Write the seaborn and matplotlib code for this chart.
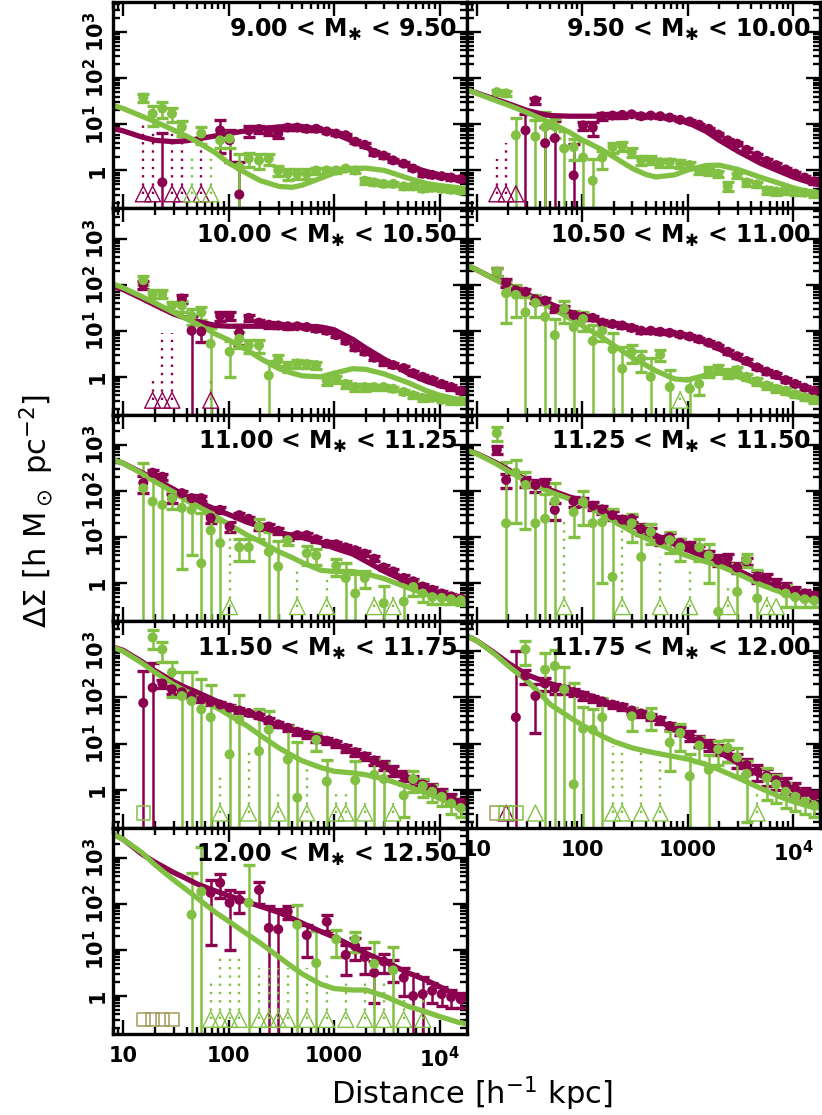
import numpy as np
import matplotlib
matplotlib.use("Agg")
import matplotlib.pyplot as plt
import seaborn as sns

nan = float("nan")

# ---------------- data ----------------
radius_bins = [15.5, 19, 23.5, 29, 36, 44.5, 55, 67.5, 83, 102, 126, 155, 194, 240, 295, 363,
               447, 550, 676, 851, 1047, 1288, 1585, 1950, 2400, 2950, 3630, 4570, 5620, 6920,
               8510, 10470, 12880, 15850]
model_radius = [7.5, 10, 15, 20, 30, 40, 50, 75, 100, 150, 200, 300, 400, 500, 750, 1000, 1500,
                2000, 3000, 5000, 7500, 10000, 15000, 18000]
mass_lo = ["9.00", "9.50", "10.00", "10.50", "11.00", "11.25", "11.50", "11.75", "12.00"]
mass_hi = ["9.50", "10.00", "10.50", "11.00", "11.25", "11.50", "11.75", "12.00", "12.50"]
x_tick_values = [10, 100, 1000, 10000]
x_tick_labels = ["10", "100", "1000", "10$^4$"]
y_tick_values = [1, 10, 100, 1000]
y_tick_labels = ["1", "10$^1$", "10$^2$", "10$^3$"]

# model curves (maroon = red population, green = blue population)
m1_model = [8.5, 7.2, 5.3, 4.5, 4.2, 4.4, 4.8, 5.6, 6.3, 7.3, 8.0, 8.8, 9.0, 8.8, 7.8, 6.4, 4.3, 3.2, 2.0, 1.25, 0.95, 0.8, 0.68, 0.64]
g1_model = [27, 22, 15, 11.5, 7.5, 5.5, 4.2, 2.4, 1.45, 0.85, 0.6, 0.45, 0.43, 0.48, 0.68, 0.88, 1.1, 1.12, 1.0, 0.68, 0.52, 0.47, 0.42, 0.4]
m2_model = [58, 48, 35, 28, 20, 17, 15.5, 15, 15, 15, 15.5, 15.5, 15.3, 14.5, 13, 11, 7, 4.5, 2.6, 1.4, 0.95, 0.72, 0.53, 0.48]
g2_model = [60, 47, 33, 26, 18, 13.5, 10.8, 6.8, 4.6, 2.9, 1.95, 1.1, 0.82, 0.72, 0.8, 1.02, 1.28, 1.3, 1.05, 0.7, 0.52, 0.42, 0.33, 0.31]
m3_model = [95, 78, 50, 36, 23, 18.5, 16, 13, 12.5, 12.5, 12.5, 12.5, 12.5, 12.5, 12, 10.5, 6.5, 4.2, 2.4, 1.2, 0.8, 0.65, 0.5, 0.46]
g3_model = [110, 85, 55, 40, 25, 18, 14, 8.5, 6.3, 3.8, 2.5, 1.5, 1.2, 1.05, 1.0, 1.2, 1.5, 1.45, 1.15, 0.75, 0.5, 0.4, 0.32, 0.3]
m4_model = [280, 210, 130, 95, 62, 46, 38, 26, 21, 16, 13.5, 11, 10, 9.5, 8.5, 7.5, 5.5, 4.0, 2.5, 1.4, 0.95, 0.72, 0.52, 0.47]
g4_model = [280, 210, 130, 92, 58, 42, 32, 19, 13, 7.5, 4.8, 2.6, 1.8, 1.35, 0.9, 0.85, 1.1, 1.2, 1.0, 0.66, 0.48, 0.39, 0.3, 0.28]
m5_model = [500, 400, 250, 180, 110, 75, 60, 40, 31, 21, 17, 12.5, 11, 9.8, 7.6, 5.8, 4.3, 3.0, 1.8, 1.05, 0.75, 0.62, 0.48, 0.45]
g5_model = [500, 400, 240, 160, 95, 62, 48, 28, 19, 11, 8, 4.8, 3.6, 2.8, 1.9, 1.8, 1.8, 1.6, 1.25, 0.8, 0.58, 0.5, 0.43, 0.42]
m6_model = [800, 650, 420, 290, 170, 130, 105, 75, 62, 40, 28, 18, 13.5, 11, 7, 5.3, 3.6, 2.9, 1.9, 1.1, 0.8, 0.65, 0.54, 0.5]
g6_model = [800, 640, 400, 270, 160, 120, 95, 68, 55, 33, 22, 13, 9.5, 7.5, 5, 3.9, 2.9, 2.4, 1.6, 0.92, 0.65, 0.52, 0.43, 0.4]
m7_model = [1300, 1050, 600, 380, 220, 160, 130, 85, 65, 45, 35, 24, 20, 17, 13.5, 10, 6.5, 4.9, 3.2, 1.8, 1.2, 0.85, 0.55, 0.5]
g7_model = [1300, 1000, 560, 350, 190, 135, 100, 62, 42, 24, 15, 8, 5.5, 4.2, 3.0, 2.5, 2.3, 2.1, 1.7, 1.15, 0.85, 0.65, 0.42, 0.38]
m8_model = [2300, 1700, 900, 550, 310, 240, 200, 150, 125, 90, 68, 48, 40, 34, 20, 14, 9, 6.5, 3.8, 2.0, 1.4, 1.05, 0.76, 0.7]
g8_model = [2300, 1700, 850, 480, 230, 120, 70, 38, 25, 15, 11, 8, 6.9, 6.2, 5.2, 4.6, 3.5, 2.7, 1.8, 1.05, 0.7, 0.55, 0.42, 0.4]
m9_model = [3500, 2500, 1200, 800, 480, 350, 270, 190, 150, 110, 88, 65, 48, 38, 25, 19, 12, 8.5, 5.6, 3.2, 2.2, 1.6, 1.0, 0.88]
g9_model = [3500, 2500, 1300, 700, 330, 200, 135, 65, 42, 22, 14, 7, 4.3, 3.0, 1.8, 1.45, 1.35, 1.35, 1.0, 0.6, 0.45, 0.36, 0.27, 0.25]

# measurements: value > 0 -> point with error bar, value < 0 -> open triangle, 0 -> open square
g1_vals = [38, 17, 22, 17, 8.7, -1, 6.3, -1, 4.5, 4.9, 1.2, 1.8, 1.65, 1.8, 1.0, 0.85, 0.85, 0.85, 1.0, 1.0, 1.0, 1.1, 1.0, 0.6, 0.55, 0.51, 0.51, 0.45, 0.45, 0.4, 0.42, 0.4, 0.38, 0.36]
g1_errs = [7, 8, 8, 6, 3, 3, 2.5, 3, 1.5, 1.8, 1.1, 0.6, 0.6, 0.5, 0.25, 0.22, 0.2, 0.2, 0.15, 0.12, 0.12, 0.1, 0.1, 0.08, 0.07, 0.06, 0.05, 0.05, 0.05, 0.04, 0.04, 0.04, 0.04, 0.04]
m1_vals = [-1, -1, 0.55, -1, -1, nan, -1, nan, 7.4, 4.5, 0.3, 7.4, 7.9, 7.4, 6.3, 8.5, 8.5, 8.0, 8.0, 7.0, 6.3, 5.8, 4.2, 3.6, 2.4, 2.1, 1.65, 1.4, 1.1, 0.85, 0.8, 0.75, 0.7, 0.65]
m1_errs = [13, 10, 6, 8, 6, nan, 7, nan, 5, 3, 1.2, 2, 1.5, 1.5, 1.2, 1, 1, 0.8, 0.7, 0.6, 0.5, 0.4, 0.3, 0.3, 0.2, 0.2, 0.15, 0.12, 0.1, 0.08, 0.08, 0.07, 0.07, 0.06]

g2_vals = [50, 47, 5.8, nan, 5.4, 8.7, 9, 3, 3.2, 1.9, 0.6, 1.9, 3.2, 3.4, 2.5, 1.7, 1.7, 1.5, 1.5, 1.4, 1.3, 1.0, 0.95, 0.85, 0.45, 0.8, 0.55, 0.5, 0.37, 0.35, 0.36, 0.35, 0.33, 0.31]
g2_errs = [6, 5, 8, nan, 7, 9.5, 4, 4, 1.5, 2.5, 1.2, 0.8, 0.8, 0.7, 0.5, 0.4, 0.35, 0.3, 0.3, 0.25, 0.2, 0.18, 0.15, 0.12, 0.1, 0.1, 0.08, 0.07, 0.06, 0.05, 0.05, 0.05, 0.04, 0.04]
m2_vals = [-1, -1, -1, 7.4, 33, 3.9, 5, nan, 0.78, 9.5, 8.5, 15, 15.5, 16, 16.5, 15, 15.5, 15, 14, 12.5, 11.5, 9.8, 8, 6.0, 4.5, 3.8, 2.8, 2.1, 1.6, 1.3, 1.05, 0.85, 0.7, 0.58]
m2_errs = [2.8, 5, 1.2, 9, 5, 5, 7, nan, 3, 2, 3, 2.5, 2, 2, 1.5, 1.5, 1.2, 1, 1, 0.8, 0.7, 0.6, 0.5, 0.4, 0.35, 0.3, 0.25, 0.2, 0.15, 0.12, 0.1, 0.08, 0.07, 0.06]

g3_vals = [125, 63, 63, 35, 35, 21, 25, 5.2, nan, 3.5, 6.7, 4.8, 4.8, 1.07, 2.3, 1.7, 1.95, 1.9, 1.8, 0.83, 0.9, 0.7, 0.6, 0.6, 0.6, 0.6, 0.55, 0.47, 0.4, 0.35, 0.35, 0.32, 0.3, 0.3]
g3_errs = [25, 12, 12, 8, 10, 8, 8, 6, nan, 2.5, 2.5, 1.5, 1.5, 1.1, 0.6, 0.4, 0.4, 0.35, 0.3, 0.15, 0.15, 0.12, 0.1, 0.1, 0.08, 0.07, 0.06, 0.05, 0.05, 0.05, 0.04, 0.04, 0.04, 0.04]
m3_vals = [100, -1, -1, -1, 50, 10, 9.6, -1, 21, 21, 9, 19, 15, 13.5, 13, 12.5, 12.5, 12, 11, 10, 8, 6, 4.3, 3.5, 2.6, 2.1, 1.8, 1.55, 1.2, 1.0, 0.85, 0.7, 0.6, 0.5]
m3_errs = [20, 2, 10, 10, 10, 11, 4, 2, 5, 4, 4, 3, 2.5, 2, 1.8, 1.5, 1.3, 1.2, 1, 0.9, 0.8, 0.6, 0.45, 0.35, 0.3, 0.25, 0.2, 0.17, 0.13, 0.1, 0.09, 0.08, 0.07, 0.06]

g4_vals = [190, 65, 60, 25, 40, 20, 8, 30, 12, 18, 6, 10, 4, 1.5, 3.5, 2.5, 1.0, 3.0, 0.6, -1, 0.55, 0.7, 1.3, 1.5, 1.2, 1.4, 1.0, 0.8, 0.65, 0.55, 0.5, 0.42, 0.36, 0.32]
g4_errs = [40, 50, 40, 30, 20, 25, 10, 15, 15, 8, 7, 4, 5, 3, 1.5, 1.2, 1.5, 0.8, 0.8, 1.5, 0.4, 0.3, 0.3, 0.3, 0.25, 0.2, 0.15, 0.12, 0.1, 0.08, 0.07, 0.06, 0.05, 0.05]
m4_vals = [190, 110, 75, 70, 48, 45, 30, 30, 22, 20, 19, 15, 14, 13, 11.5, 10, 10, 9.5, 9, 8.2, 7.5, 6.5, 5.5, 4.6, 3.5, 2.8, 2.2, 1.6, 1.3, 1.1, 0.85, 0.7, 0.58, 0.5]
m4_errs = [40, 20, 12, 10, 8, 7, 5, 4, 3, 2.5, 2, 1.8, 1.5, 1.3, 1.1, 1, 0.9, 0.8, 0.7, 0.6, 0.5, 0.45, 0.4, 0.35, 0.3, 0.25, 0.2, 0.15, 0.12, 0.1, 0.08, 0.07, 0.06, 0.05]

g5_vals = [115, 59, 50, 70, 43, 39, 2.7, 14, 7.4, -1, 6, 6, 17, 4.8, 2.3, 8.6, -1, 4.5, 4, -1, 2.4, 1.3, 0.6, 1.3, -1, 0.37, -1, 0.4, 0.83, 0.6, 0.5, 0.48, 0.45, 0.43]
g5_errs = [285, 120, 100, 30, 41, 35, 30, 25, 15, 15, 3, 3, 8, 8, 6, 2, 3.3, 2, 1.5, 2.2, 1.0, 1.5, 1.0, 0.5, 1.5, 0.5, 1.5, 0.5, 0.3, 0.2, 0.15, 0.12, 0.1, 0.1]
m5_vals = [150, 250, 204, 70, 90, 70, 70, 26, 39, 17, 30, 25, 17, 17, 13.7, 10, 11, 11, 9, 7.2, 7, 6, 5.2, 4.4, 3.4, 2.2, 1.8, 1.3, 1.1, 0.85, 0.72, 0.6, 0.52, 0.47]
m5_errs = [60, 40, 30, 15, 12, 10, 8, 6, 5, 4, 3.5, 3, 2.5, 2, 1.8, 1.5, 1.3, 1.2, 1, 0.9, 0.8, 0.7, 0.6, 0.5, 0.4, 0.3, 0.25, 0.2, 0.15, 0.12, 0.1, 0.08, 0.07, 0.06]

g6_vals = [1800, 20, 250, 135, 20, 25, 60, -1, 35, 58, 20, 21, 1.37, -1, 20, 3.7, 13, -1, 8.6, 6, -1, 6, 4, 0.24, -1, 0.65, 3.2, 0.47, -1, -1, 0.6, 0.5, 0.45, 0.42]
g6_errs = [600, 415, 230, 120, 100, 60, 90, 29, 25, 40, 30, 20, 40, 15, 12, 15, 6, 4.7, 4, 3, 3, 3, 3, 3, 2, 2, 1, 1.5, 1.5, 1.3, 0.3, 0.2, 0.15, 0.12]
m6_vals = [780, 174, nan, 160, 135, 150, 39, nan, 60, 59, 48, 40, 30, 24, 25, 15, 13, 8.6, 10, 7.5, 6.5, 5.5, 4.2, 3.2, 3.5, 2.2, 3, 1.4, 1.3, 1.0, 0.8, 0.68, 0.6, 0.54]
m6_errs = [150, 60, nan, 40, 40, 30, 15, nan, 15, 12, 10, 8, 7, 5, 4, 4, 3, 2, 2, 1.5, 1.2, 1, 0.9, 0.8, 0.7, 0.5, 0.5, 0.4, 0.3, 0.25, 0.2, 0.15, 0.12, 0.1]

g7_vals = [0, 2000, 1100, 350, 107, 83, 55, 37, -1, 5.8, 33, -1, 6.8, 20, -1, 4.5, 0.67, -1, 12, 1.5, -1, -1, 1.6, -1, 2.1, 1.7, -1, 0.75, 1.7, 1.2, 0.9, 0.7, 0.5, 0.4]
g7_errs = [0, 900, 500, 250, 250, 270, 200, 150, 3, 60, 80, 8, 50, 30, 2, 20, 10, 5, 5, 3, 2, 2, 2.5, 1.5, 2.5, 2, 1.5, 0.5, 0.8, 0.5, 0.35, 0.25, 0.2, 0.15]
m7_vals = [76, 163, 200, 150, 130, 110, 90, 80, 70, 60, 52, 46, 40, 32, 26, 22, 18, 15.5, 13, 11.5, 10, 8, 6.5, 5.3, 4.3, 3.4, 2.6, 2.0, 1.6, 1.3, 1.05, 0.85, 0.65, 0.52]
m7_errs = [300, 400, 40, 30, 20, 15, 12, 10, 8, 7, 6, 5, 4.5, 4, 3.5, 3, 2.5, 2.2, 2, 1.8, 1.5, 1.3, 1.1, 1, 0.8, 0.7, 0.6, 0.5, 0.4, 0.3, 0.25, 0.2, 0.15, 0.12]

g8_vals = [0, 0, 0, 1100, -1, 400, 480, 150, 1.3, 21, 20, 37, -1, -1, 39, -1, 40, -1, 10.5, 17, 1.95, 9, 2.7, 7.5, 8, 5, 2.2, -1, 1.8, 1.3, 0.9, 0.7, 0.55, 0.45]
g8_errs = [0, 0, 0, 600, 1, 500, 600, 300, 200, 40, 35, 60, 10, 10, 20, 8, 20, 8, 8, 10, 4, 5, 3, 4, 4, 3, 2, 2, 1.2, 0.8, 0.5, 0.35, 0.25, 0.2]
m8_vals = [0, -1, 37, 300, 107, 200, 160, 150, 130, 110, 95, 82, 70, 62, 52, 45, 38, 32, 24, 19, 15, 11.5, 9.5, 7.5, 5.8, 4.4, 3.4, 2.5, 2.0, 1.6, 1.3, 1.05, 0.85, 0.75]
m8_errs = [0, 1, 960, 100, 90, 60, 40, 30, 25, 20, 15, 12, 10, 9, 8, 7, 6, 5, 4.5, 4, 3.5, 3, 2.5, 2, 1.8, 1.5, 1.2, 1, 0.8, 0.6, 0.5, 0.35, 0.25, 0.2]

g9_vals = [0, 0, 0, 0, nan, 58, 185, -1, -1, -1, -1, 105, -1, -1, -1, -1, 35, -1, 5.2, -1, 17, -1, 17, -1, 5, -1, 3.6, -1, nan, -1, nan, nan, nan, nan]
g9_errs = [0, 0, 0, 0, nan, 400, 1500, 3, 8, 8, 8, 600, 5, 5, 5, 5, 60, 5, 20, 4, 10, 3, 8, 3, 10, 3, 8, 2, nan, 2, nan, nan, nan, nan]
m9_vals = [0, 0, 0, 0, nan, nan, nan, 173, 285, 105, 122, nan, 200, 30, 28, 68, nan, 21, nan, 41, nan, 7.8, 12, 7, 3.2, 5.6, 4, 2.5, 1.0, 1.1, 1.3, 1.1, 0.95, 0.85]
m9_errs = [0, 0, 0, 0, nan, nan, nan, 160, 150, 95, 60, nan, 100, 60, 50, 20, nan, 14, nan, 15, nan, 5, 6, 4, 2.5, 2.5, 2, 1.5, 2, 1.5, 0.6, 0.5, 0.4, 0.3]

panels = [
    (m1_model, g1_model, m1_vals, m1_errs, g1_vals, g1_errs),
    (m2_model, g2_model, m2_vals, m2_errs, g2_vals, g2_errs),
    (m3_model, g3_model, m3_vals, m3_errs, g3_vals, g3_errs),
    (m4_model, g4_model, m4_vals, m4_errs, g4_vals, g4_errs),
    (m5_model, g5_model, m5_vals, m5_errs, g5_vals, g5_errs),
    (m6_model, g6_model, m6_vals, m6_errs, g6_vals, g6_errs),
    (m7_model, g7_model, m7_vals, m7_errs, g7_vals, g7_errs),
    (m8_model, g8_model, m8_vals, m8_errs, g8_vals, g8_errs),
    (m9_model, g9_model, m9_vals, m9_errs, g9_vals, g9_errs),
]

# ---------------- style ----------------
MAROON = "#8C0050"
GREEN = "#82C043"
OLIVE = "#A29A5C"
YMIN, YMAX = 0.15, 4500
XMIN, XMAX = 8, 18000
FLAG_Y = 0.31

sns.set_style("ticks")
plt.rcParams["font.family"] = ["DejaVu Sans"]
plt.rcParams["mathtext.default"] = "regular"
for key in ("text.color", "axes.labelcolor", "axes.edgecolor", "xtick.color", "ytick.color"):
    plt.rcParams[key] = "black"


def draw_points(ax, vals, errs, color):
    r = np.array(radius_bins, float)
    v = np.array(vals, float)
    e = np.array(errs, float)
    pos = v > 0
    lo = np.clip(v - e, 1e-3, None)
    hi = v + e
    ax.vlines(r[pos], lo[pos], hi[pos], colors=color, lw=1.8, zorder=2)
    ax.plot(r[pos], hi[pos], ls="none", marker="_", ms=8, mew=2.4, color=color, zorder=2)
    lo_vis = pos & (v - e > YMIN)
    ax.plot(r[lo_vis], lo[lo_vis], ls="none", marker="_", ms=8, mew=2.4, color=color, zorder=2)
    if pos.any():
        sns.scatterplot(x=r[pos], y=v[pos], color=color, s=52, edgecolor="none",
                        ax=ax, zorder=4, legend=False)
    neg = v < 0
    top = v + e
    dot = neg & (top > FLAG_Y)
    ax.vlines(r[dot], FLAG_Y, top[dot], colors=color, lw=1.7, linestyles=(0, (1, 2.5)), zorder=2)
    if neg.any():
        ax.scatter(r[neg], np.full(neg.sum(), FLAG_Y), marker="^", s=130,
                   facecolors="none", edgecolors=color, linewidths=1.0, zorder=4)
    return v == 0


fig = plt.figure(figsize=(8.22, 11.15), dpi=100)
gs = fig.add_gridspec(5, 2, left=113 / 822, right=820 / 822, top=1 - 2 / 1115,
                      bottom=1 - 1034 / 1115, hspace=0, wspace=0)

for i, (mm, gm, mv, me, gv, ge) in enumerate(panels):
    row, col = divmod(i, 2)
    ax = fig.add_subplot(gs[row, col])
    ax.set_xscale("log")
    ax.set_yscale("log")
    ax.set_xlim(XMIN, XMAX)
    ax.set_ylim(YMIN, YMAX)

    sq_m = draw_points(ax, mv, me, MAROON)
    sq_g = draw_points(ax, gv, ge, GREEN)
    r = np.array(radius_bins, float)
    both = sq_m & sq_g
    for mask, c in ((both, OLIVE), (sq_m & ~both, MAROON), (sq_g & ~both, GREEN)):
        if mask.any():
            ax.scatter(r[mask], np.full(mask.sum(), FLAG_Y), marker="s", s=95,
                       facecolors="none", edgecolors=c, linewidths=1.1, zorder=4)

    sns.lineplot(x=model_radius, y=mm, color=MAROON, lw=3.8, ax=ax, zorder=3,
                 estimator=None, sort=False, legend=False)
    sns.lineplot(x=model_radius, y=gm, color=GREEN, lw=3.8, ax=ax, zorder=3,
                 estimator=None, sort=False, legend=False)

    ax.text(0.974, 0.93, f"{mass_lo[i]} < M$_{{✱}}$ < {mass_hi[i]}", transform=ax.transAxes,
            ha="right", va="top", fontsize=17, fontweight="bold", zorder=6)

    for s in ax.spines.values():
        s.set_linewidth(2.4)
        s.set_zorder(6)
    ax.tick_params(which="both", direction="in", top=True, right=True, width=1.7,
                   labelsize=15, colors="black")
    ax.tick_params(which="major", length=10)
    ax.tick_params(which="minor", length=5)
    ax.xaxis.set_major_locator(matplotlib.ticker.FixedLocator(x_tick_values))
    ax.xaxis.set_minor_locator(matplotlib.ticker.LogLocator(base=10, subs=np.arange(2, 10)))
    ax.yaxis.set_major_locator(matplotlib.ticker.FixedLocator(y_tick_values))
    ax.yaxis.set_minor_locator(matplotlib.ticker.LogLocator(base=10, subs=np.arange(2, 10)))
    ax.xaxis.set_minor_formatter(matplotlib.ticker.NullFormatter())
    ax.yaxis.set_minor_formatter(matplotlib.ticker.NullFormatter())
    if col == 0:
        ax.set_yticklabels(y_tick_labels, rotation=90, va="center", fontweight="bold")
    else:
        ax.set_yticklabels([])
    if i in (7, 8):
        ax.set_xticklabels(x_tick_labels, fontweight="bold")
        ax.tick_params(axis="x", pad=9)
    else:
        ax.set_xticklabels([])
    ax.set_xlabel("")
    ax.set_ylabel("")

fig.text(0.045, 0.542, r"$\Delta\Sigma$ [h M$_\odot$ pc$^{-2}$]", rotation=90,
         ha="center", va="center", fontsize=22)
fig.text(0.574, 0.019, r"Distance [h$^{-1}$ kpc]", ha="center", va="center", fontsize=22)

fig.savefig("out.png", dpi=100)
